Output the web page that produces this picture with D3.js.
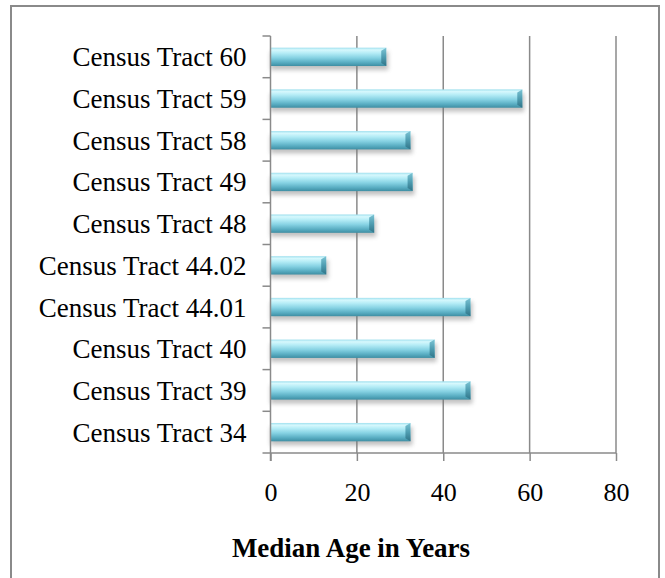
<!DOCTYPE html>
<html><head><meta charset="utf-8">
<script src="https://cdn.jsdelivr.net/npm/d3@7"></script>
<style>html,body{margin:0;padding:0;background:#fff;}svg{display:block;}</style>
</head><body>
<script>
const categories = ["Census Tract 60","Census Tract 59","Census Tract 58","Census Tract 49","Census Tract 48","Census Tract 44.02","Census Tract 44.01","Census Tract 40","Census Tract 39","Census Tract 34"];
const values = [26.8, 58.3, 32.4, 32.9, 24.0, 12.9, 46.3, 38.0, 46.3, 32.4];
const xTicks = [0, 20, 40, 60, 80];
const xTitle = "Median Age in Years";

const W = 665, H = 578;
const m = {left: 270.5, right: 616, top: 36, bottom: 453};
const FONT = "'Liberation Serif', 'Times New Roman', serif";
const svg = d3.select("body").append("svg").attr("width", W).attr("height", H);
const defs = svg.append("defs");
const g1 = defs.append("linearGradient").attr("id","barg").attr("x1",0).attr("y1",0).attr("x2",0).attr("y2",1);
[[0,"#9fe0ee"],[0.12,"#d6f8fd"],[0.3,"#b4ecf6"],[0.55,"#86d2e3"],[0.8,"#5aaec3"],[1,"#3e8ea3"]].forEach(([o,c])=>g1.append("stop").attr("offset",o).attr("stop-color",c));
const g2 = defs.append("linearGradient").attr("id","endg").attr("x1",0).attr("y1",0).attr("x2",0).attr("y2",1);
[[0,"#7cc4d4"],[0.5,"#4f9db1"],[1,"#2f7488"]].forEach(([o,c])=>g2.append("stop").attr("offset",o).attr("stop-color",c));
const f = defs.append("filter").attr("id","sh").attr("x","-10%").attr("y","-50%").attr("width","130%").attr("height","250%");
f.append("feGaussianBlur").attr("stdDeviation",2.2);

// border
svg.append("path").attr("d",`M11,${H+5} L11,6 L659,6 L659,${H+5}`).attr("fill","none").attr("stroke","#8a8a8a").attr("stroke-width",2);

const x = d3.scaleLinear().domain([0,80]).range([m.left, m.right]);
const y = d3.scaleBand().domain(categories).range([m.top, m.bottom]).paddingInner(0.56).paddingOuter(0.28);
const yb = d3.scaleBand().domain(categories).range([m.top, m.bottom]);

// gridlines
svg.append("g").selectAll("line").data(xTicks.slice(1)).join("line")
  .attr("x1",d=>x(d)).attr("x2",d=>x(d)).attr("y1",m.top).attr("y2",m.bottom)
  .attr("stroke","#8a8a8a").attr("stroke-width",1.5);

// shadows
svg.append("g").selectAll("rect").data(values).join("rect")
  .attr("x",x(0)).attr("y",(d,i)=>y(categories[i])+4)
  .attr("width",d=>x(d)-x(0)+2).attr("height",y.bandwidth())
  .attr("fill","#777").attr("opacity",0.45).attr("filter","url(#sh)");
// bars
const bars = svg.append("g");
bars.selectAll("rect.b").data(values).join("rect").attr("class","b")
  .attr("x",x(0)).attr("y",(d,i)=>y(categories[i]))
  .attr("width",d=>x(d)-x(0)).attr("height",y.bandwidth())
  .attr("fill","url(#barg)");
bars.selectAll("path.e").data(values).join("path").attr("class","e")
  .attr("d",(d,i)=>{const x1=x(d), y0=y(categories[i]), h=y.bandwidth(); return `M${x1-5},${y0+3} L${x1},${y0} L${x1},${y0+h} L${x1-5},${y0+h-3} Z`;})
  .attr("fill","url(#endg)");

// axes
const xa = d3.axisBottom(x).tickValues(xTicks).tickSize(8).tickPadding(22).tickFormat(d3.format("d"));
const gx = svg.append("g").attr("transform",`translate(0,${m.bottom})`).call(xa);
gx.select(".domain").attr("stroke","#8a8a8a").attr("stroke-width",1.5).attr("d",`M${m.left},0H${m.right}`);
gx.selectAll(".tick line").attr("stroke","#8a8a8a").attr("stroke-width",1.5);
gx.selectAll("text").attr("fill","#000").attr("font-family",FONT).attr("font-size",26);

const gy = svg.append("g").attr("transform",`translate(${m.left},0)`);
gy.append("line").attr("x1",0).attr("x2",0).attr("y1",m.top).attr("y2",m.bottom+8).attr("stroke","#8a8a8a").attr("stroke-width",1.5);
const bounds = categories.map(c=>yb(c)).concat([m.bottom]);
gy.selectAll("line.t").data(bounds).join("line").attr("class","t")
  .attr("x1",-8).attr("x2",0).attr("y1",d=>d).attr("y2",d=>d).attr("stroke","#8a8a8a").attr("stroke-width",1.5);
gy.selectAll("text").data(categories).join("text")
  .attr("x",-24).attr("y",d=>yb(d)+yb.bandwidth()/2).attr("dy","0.35em")
  .attr("text-anchor","end").attr("font-family",FONT).attr("font-size",27).attr("fill","#000")
  .text(d=>d);

svg.append("text").attr("x",351).attr("y",557).attr("text-anchor","middle")
  .attr("font-family",FONT).attr("font-weight","bold").attr("font-size",27).attr("fill","#000")
  .text(xTitle);
</script>
</body></html>
